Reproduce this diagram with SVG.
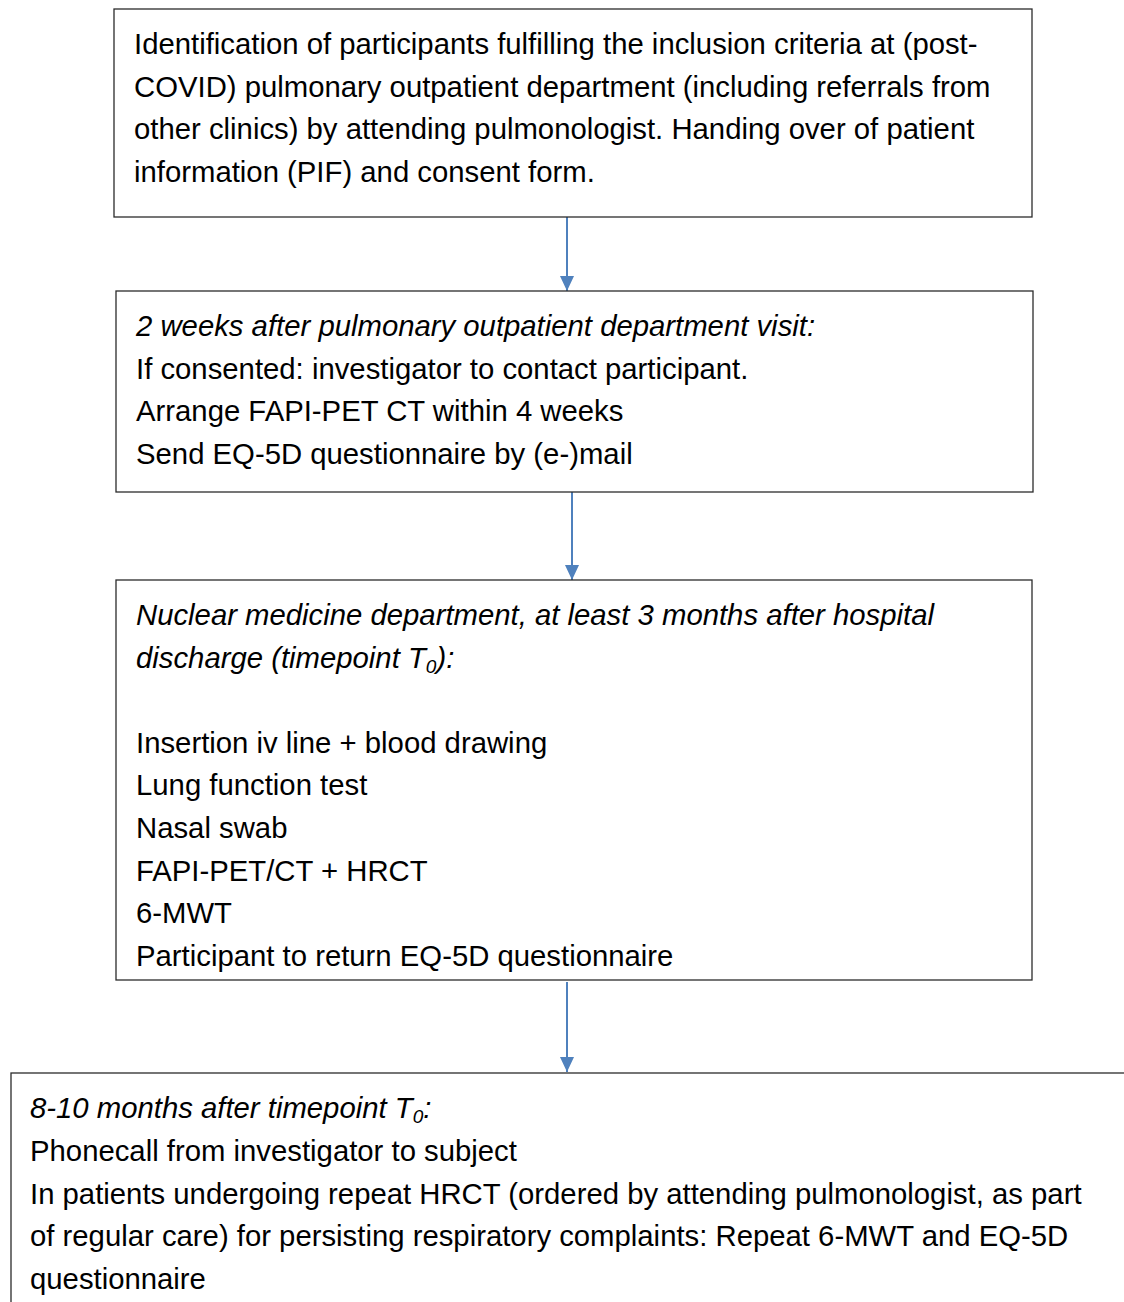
<svg xmlns="http://www.w3.org/2000/svg" width="1124" height="1302" viewBox="0 0 1124 1302">
<defs>
<style>
.box{fill:#fff;stroke:#2b2b2b;stroke-width:1.3}
.t{font-family:"Liberation Sans",Arial,sans-serif;font-size:29.3px;fill:#000}
.i{font-style:italic}
.sub{font-size:19px}
.conn{stroke:#4f81bd;stroke-width:2;fill:none}
</style>
<marker id="ah" markerWidth="16" markerHeight="14" refX="15" refY="7" orient="auto" markerUnits="userSpaceOnUse">
<path d="M0,0 L15,7 L0,14 Z" fill="#4f81bd"/>
</marker>
</defs>
<rect width="1124" height="1302" fill="#fff"/>
<g id="connectors">
<line class="conn" x1="567" y1="217" x2="567" y2="291" marker-end="url(#ah)"/>
<line class="conn" x1="572" y1="492" x2="572" y2="580" marker-end="url(#ah)"/>
<line class="conn" x1="567" y1="982" x2="567" y2="1072" marker-end="url(#ah)"/>
</g>
<g id="node1">
<rect class="box" x="114" y="9" width="918" height="208"/>
<text class="t" x="134" y="54">Identification of participants fulfilling the inclusion criteria at (post-</text>
<text class="t" x="134" y="97">COVID) pulmonary outpatient department (including referrals from</text>
<text class="t" x="134" y="139">other clinics) by attending pulmonologist. Handing over of patient</text>
<text class="t" x="134" y="182">information (PIF) and consent form.</text>
</g>
<g id="node2">
<rect class="box" x="116" y="291" width="917" height="201"/>
<text class="t i" x="136" y="336">2 weeks after pulmonary outpatient department visit:</text>
<text class="t" x="136" y="379">If consented: investigator to contact participant.</text>
<text class="t" x="136" y="421">Arrange FAPI-PET CT within 4 weeks</text>
<text class="t" x="136" y="464">Send EQ-5D questionnaire by (e-)mail</text>
</g>
<g id="node3">
<rect class="box" x="116" y="580" width="916" height="400"/>
<text class="t i" x="136" y="625">Nuclear medicine department, at least 3 months after hospital</text>
<text class="t i" x="136" y="668">discharge (timepoint T<tspan class="sub" dy="5">0</tspan><tspan dy="-5">):</tspan></text>
<text class="t" x="136" y="753">Insertion iv line + blood drawing</text>
<text class="t" x="136" y="795">Lung function test</text>
<text class="t" x="136" y="838">Nasal swab</text>
<text class="t" x="136" y="881">FAPI-PET/CT + HRCT</text>
<text class="t" x="136" y="923">6-MWT</text>
<text class="t" x="136" y="966">Participant to return EQ-5D questionnaire</text>
</g>
<g id="node4">
<rect class="box" x="11" y="1073" width="1130" height="250"/>
<text class="t i" x="30" y="1118">8-10 months after timepoint T<tspan class="sub" dy="5">0</tspan><tspan dy="-5">:</tspan></text>
<text class="t" x="30" y="1161">Phonecall from investigator to subject</text>
<text class="t" x="30" y="1204">In patients undergoing repeat HRCT (ordered by attending pulmonologist, as part</text>
<text class="t" x="30" y="1246">of regular care) for persisting respiratory complaints: Repeat 6-MWT and EQ-5D</text>
<text class="t" x="30" y="1289">questionnaire</text>
</g>
</svg>
